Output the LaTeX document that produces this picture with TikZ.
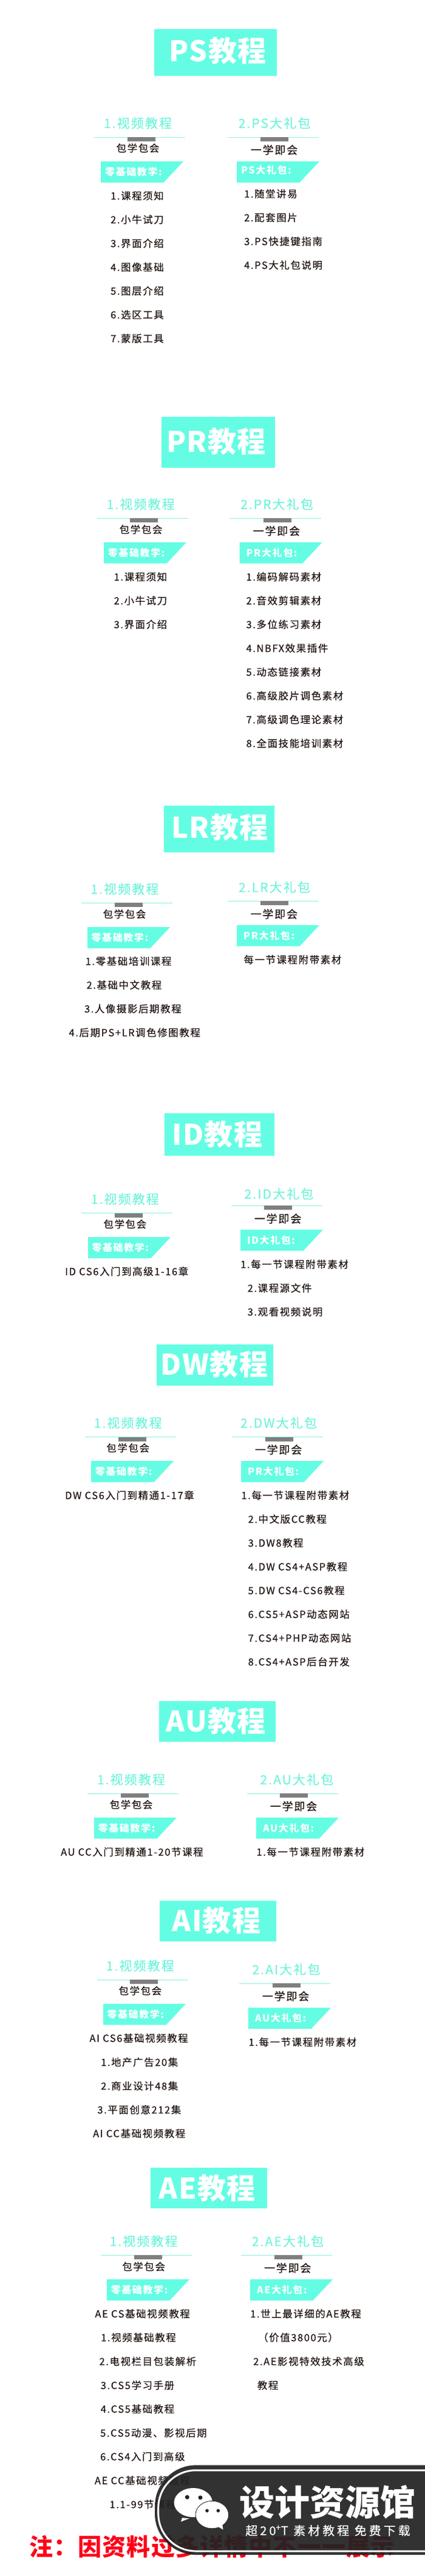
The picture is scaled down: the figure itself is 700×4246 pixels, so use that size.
\documentclass[tikz,border=0pt]{standalone}
\usepackage{fontspec}
\setmainfont{Noto Sans CJK SC}
\newfontfamily\spaced[LetterSpace=10,FakeBold=0.5]{Noto Sans CJK SC}
\newfontfamily\spacedlight[LetterSpace=10,FakeBold=0.3]{Noto Sans CJK SC}
\newfontfamily\spacedbold[LetterSpace=10]{Noto Sans CJK SC}
\newfontfamily\spacedwide[LetterSpace=20,FakeBold=0.3]{Noto Sans CJK SC}
\newfontfamily\wide[LetterSpace=3]{Noto Sans CJK SC}
\definecolor{mint}{HTML}{64FDE3}
\definecolor{minttext}{HTML}{72F3DB}
\definecolor{mintrule}{HTML}{8EF2DE}
\definecolor{markgray}{HTML}{7F7F7F}
\definecolor{inktext}{HTML}{231815}
\definecolor{badgeblack}{HTML}{222222}
\definecolor{notered}{HTML}{FF0018}
\tikzset{
	titletext/.style={text=white,inner sep=0pt,font=\wide\bfseries\fontsize{47}{47}\selectfont},
	headtext/.style={text=minttext,inner sep=0pt,font=\spacedlight\fontsize{21}{21}\selectfont},
	subtext/.style={text=inktext,inner sep=0pt,font=\spaced\fontsize{16.4}{16.4}\selectfont},
	subwide/.style={text=inktext,inner sep=0pt,font=\spaced\fontsize{18}{18}\selectfont},
	bannertext/.style={text=white,anchor=west,inner sep=0pt,text height=14pt,text depth=2pt,font=\spacedbold\bfseries\fontsize{16}{16}\selectfont},
	itemtext/.style={text=inktext,anchor=west,inner sep=0pt,text height=14pt,text depth=2pt,font=\spaced\fontsize{16.4}{16.4}\selectfont},
	notetext/.style={text=notered,anchor=west,inner sep=0pt,font=\wide\bfseries\fontsize{39}{39}\selectfont},
	badgename/.style={text=white,inner sep=0pt,font=\bfseries\fontsize{58}{58}\selectfont},
	badgeline/.style={text=white,inner sep=0pt,font=\spacedwide\fontsize{20}{20}\selectfont},
	bubble/.style={fill=white,draw=badgeblack,line width=0.8pt},
}
\newcommand{\lessontitle}[8]{
	\fill[mint] (#2,#3) rectangle (#4,#5);
	\node[titletext] (#1) at (#6,#7) {#8};
}
\newcommand{\lessonhead}[6]{
	\coordinate (#1a) at (#2,#3);
	\coordinate (#1b) at (#2+150,#3);
	\draw[mintrule,line width=0.8pt] (#1a) -- (#1b);
	\fill[markgray] (#2+54.6,#3) rectangle (#2+100.6,#3+7);
	\node[headtext] (#1head) at (#5,#6) {#4};
}
\newcommand{\lessonbanner}[6]{
	\fill[mint] (#2,#3) -- (#2+136,#3) -- (#2+103.5,#3+34.7) -- (#2,#3+34.7) -- cycle;
	\node[bannertext] (#1banner) at (#5,#6) {#4};
}
\newcommand{\itemlist}[4]{
	\foreach \n/\txt in {#4}
		\node[itemtext] (#1item\n) at (#2,{#3+39.2*(\n-1)}) {\txt};
}
\begin{document}
\begin{tikzpicture}[x=1pt,y=-1pt]
	\useasboundingbox (0,0) rectangle (700,4246);
	\lessontitle{ps}{254}{48.2}{456}{124.5}{358.5}{83.7}{PS教程}
	\lessonhead{psa}{155.4}{226.1}{1.视频教程}{227}{202.9}
	\node[subtext] (psasub) at (227,244) {包学包会};
	\lessonbanner{psa}{166}{266.1}{零基础教学:}{173}{283.7}
	\itemlist{psa}{182}{322.9}{1/1.课程须知,2/2.小牛试刀,3/3.界面介绍,4/4.图像基础,5/5.图层介绍,6/6.选区工具,7/7.蒙版工具}
	\lessonhead{psb}{374.6}{226.1}{2.PS大礼包}{452}{202.9}
	\node[subwide] (psbsub) at (451.5,247) {一学即会};
	\lessonbanner{psb}{390}{266.1}{PS大礼包:}{397}{280.4}
	\itemlist{psb}{402}{319.6}{1/1.随堂讲易,2/2.配套图片,3/3.PS快捷键指南,4/4.PS大礼包说明}
	\lessontitle{pr}{265.6}{686.9}{452.7}{770.6}{356}{727.8}{PR教程}
	\lessonhead{pra}{159.8}{853.9}{1.视频教程}{231.7}{831}
	\node[subtext] (prasub) at (232,872.7) {包学包会};
	\lessonbanner{pra}{171}{893.9}{零基础教学:}{177.7}{911}
	\itemlist{pra}{187.5}{951}{1/1.课程须知,2/2.小牛试刀,3/3.界面介绍}
	\lessonhead{prb}{379}{853.9}{2.PR大礼包}{456}{831}
	\node[subwide] (prbsub) at (455.4,875.1) {一学即会};
	\lessonbanner{prb}{394.6}{893.9}{PR大礼包:}{405.4}{911}
	\itemlist{prb}{405.4}{951}{1/1.编码解码素材,2/2.音效剪辑素材,3/3.多位练习素材,4/4.NBFX效果插件,5/5.动态链接素材,6/6.高级胶片调色素材,7/7.高级调色理论素材,8/8.全面技能培训素材}
	\lessontitle{lr}{270}{1328.2}{451.8}{1404.5}{362}{1363.7}{LR教程}
	\lessonhead{lra}{134}{1488.2}{1.视频教程}{205.4}{1465.3}
	\node[subtext] (lrasub) at (205,1506.5) {包学包会};
	\lessonbanner{lra}{144}{1528.2}{零基础教学:}{150.4}{1545.7}
	\foreach \n/\x/\y/\txt in {1/140.6/1584.5/1.零基础培训课程,2/142.4/1623.7/2.基础中文教程,3/138.8/1662.9/3.人像摄影后期教程,4/113.4/1702.1/4.后期PS+LR调色修图教程}
		\node[itemtext] (lraitem\n) at (\x,\y) {\txt};
	\lessonhead{lrb}{374.6}{1485.3}{2.LR大礼包}{452}{1462.4}
	\node[subwide] (lrbsub) at (451.3,1506.5) {一学即会};
	\lessonbanner{lrb}{390}{1524.9}{PR大礼包:}{401}{1542.4}
	\node[itemtext] (lrbitem) at (401.3,1582) {每一节课程附带素材};
	\lessontitle{id}{271}{1835.1}{451.8}{1904.5}{357.8}{1869.4}{ID教程}
	\lessonhead{ida}{134.4}{1999.6}{1.视频教程}{205.8}{1976.3}
	\node[subtext] (idasub) at (205.8,2017.6) {包学包会};
	\lessonbanner{ida}{145}{2039.2}{零基础教学:}{151.3}{2056.7}
	\node[itemtext] (idaitem) at (107,2095.9) {ID CS6入门到高级1-16章};
	\lessonhead{idb}{380.8}{1987.3}{2.ID大礼包}{459.4}{1967.8}
	\node[subwide] (idbsub) at (457.6,2008.6) {一学即会};
	\lessonbanner{idb}{396}{2026.9}{ID大礼包:}{407}{2044.5}
	\foreach \n/\x/\y/\txt in {1/396/2084.1/1.每一节课程附带素材,2/407.6/2123.3/2.课程源文件,3/407.6/2162.4/3.观看视频说明}
		\node[itemtext] (idbitem\n) at (\x,\y) {\txt};
	\lessontitle{dw}{258}{2215.9}{449.6}{2283.7}{353}{2248.6}{DW教程}
	\lessonhead{dwa}{140}{2368.6}{1.视频教程}{210.7}{2345.3}
	\node[subtext] (dwasub) at (210.7,2386.5) {包学包会};
	\lessonbanner{dwa}{150}{2408.2}{零基础教学:}{156.7}{2425.3}
	\node[itemtext] (dwaitem) at (107,2464.9) {DW CS6入门到精通1-17章};
	\lessonhead{dwb}{382}{2368.6}{2.DW大礼包}{459}{2345.3}
	\node[subwide] (dwbsub) at (458.5,2389.4) {一学即会};
	\lessonbanner{dwb}{397}{2408.2}{PR大礼包:}{408}{2425.3}
	\node[itemtext] (dwbitema) at (397.3,2464.9) {1.每一节课程附带素材};
	\itemlist{dwb}{408.5}{2464.9}{2/2.中文版CC教程,3/3.DW8教程,4/4.DW CS4+ASP教程,5/5.DW CS4-CS6教程,6/6.CS5+ASP动态网站,7/7.CS4+PHP动态网站,8/8.CS4+ASP后台开发}
	\lessontitle{au}{262}{2804.1}{454}{2871.4}{355.6}{2836.7}{AU教程}
	\lessonhead{aua}{144}{2956.3}{1.视频教程}{216}{2933.1}
	\node[subtext] (auasub) at (216,2974.3) {包学包会};
	\lessonbanner{aua}{155}{2995.9}{零基础教学:}{161.6}{3013.5}
	\node[itemtext] (auaitem) at (100,3052.7) {AU CC入门到精通1-20节课程};
	\lessonhead{aub}{406.7}{2956.3}{2.AU大礼包}{488.8}{2933.1}
	\node[subwide] (aubsub) at (483.5,2977.1) {一学即会};
	\lessonbanner{aub}{421.9}{2995.9}{AU大礼包:}{433}{3013.5}
	\node[itemtext] (aubitem) at (422.3,3052.7) {1.每一节课程附带素材};
	\lessontitle{ai}{263}{3133.1}{454.5}{3200.4}{356.5}{3166.1}{AI教程}
	\lessonhead{aia}{159.8}{3263.3}{1.视频教程}{230.8}{3240}
	\node[subtext] (aiasub) at (230.8,3281.2) {包学包会};
	\lessonbanner{aia}{170}{3302.9}{零基础教学:}{176.3}{3320.4}
	\foreach \n/\x/\y/\txt in {1/147.3/3359.6/AI CS6基础视频教程,2/166/3399.2/1.地产广告20集,3/166/3438.4/2.商业设计48集,4/160.3/3477.6/3.平面创意212集,5/153/3516.7/AI CC基础视频教程}
		\node[itemtext] (aiaitem\n) at (\x,\y) {\txt};
	\lessonhead{aib}{394}{3269}{2.AI大礼包}{471.4}{3246.1}
	\node[subwide] (aibsub) at (470.5,3290.2) {一学即会};
	\lessonbanner{aib}{409}{3309.4}{AU大礼包:}{420}{3326.5}
	\node[itemtext] (aibitem) at (409.4,3366.1) {1.每一节课程附带素材};
	\lessontitle{ae}{248}{3573}{440}{3640.4}{341}{3606.9}{AE教程}
	\lessonhead{aea}{166}{3717.3}{1.视频教程}{236.6}{3694.1}
	\node[subtext] (aeasub) at (236.6,3735.9) {包学包会};
	\lessonbanner{aea}{175.9}{3757.1}{零基础教学:}{182.6}{3774.5}
	\foreach \n/\x/\y/\txt in {1/156.3/3813.9/AE CS基础视频教程,2/166/3853/1.视频基础教程,3/163.4/3892.4/2.电视栏目包装解析,4/165.6/3931.8/3.CS5学习手册,5/165.6/3970.8/4.CS5基础教程,6/165/4010.3/5.CS5动漫、影视后期,7/165/4049.3/6.CS4入门到高级,8/155.8/4088.7/AE CC基础视频教程,9/180.4/4128.1/1.1-99节课程}
		\node[itemtext] (aeaitem\n) at (\x,\y) {\txt};
	\lessonhead{aeb}{397}{3717.3}{2.AE大礼包}{474}{3694.1}
	\node[subwide] (aebsub) at (473.7,3738.2) {一学即会};
	\lessonbanner{aeb}{412}{3757.1}{AE大礼包:}{423}{3774.5}
	\foreach \n/\x/\y/\txt in {1/412/3813.9/1.世上最详细的AE教程,2/425/3853/（价值3800元）,3/417/3892.4/2.AE影视特效技术高级,4/423.7/3931.8/教程}
		\node[itemtext] (aebitem\n) at (\x,\y) {\txt};
	\node[notetext] (note) at (48,4198) {注：因资料过多详情中不一一展示};
	\fill[badgeblack,fill opacity=0.93] (700,4063.3) [rounded corners=68pt] -- (255,4063.3) -- (255,4211) [sharp corners] -- (700,4211) -- cycle;
	\draw[white,line width=3pt] (700,4071.7) [rounded corners=62pt] -- (260.7,4071.7) -- (260.7,4205) [sharp corners] -- (700,4205);
	\fill[white] (300,4150) -- (298,4156.5) -- (312,4151) -- cycle;
	\fill[white] (318.3,4125) ellipse (31.7 and 24);
	\fill[badgeblack] (308.3,4116) circle (3.5) (330,4116.7) circle (3.5);
	\fill[bubble] (349.3,4145) ellipse (27.3 and 22.7);
	\fill[white] (358,4164) -- (367.5,4169.5) -- (366,4160) -- cycle;
	\fill[badgeblack] (341,4138.3) circle (2.8) (359.3,4138.3) circle (2.8);
	\node[badgename] (badgetitle) at (539,4124) {设计资源馆};
	\node[badgeline] (badgesub) at (540,4171) {超20\textsuperscript{+}T 素材教程 免费下载};
\end{tikzpicture}
\end{document}
